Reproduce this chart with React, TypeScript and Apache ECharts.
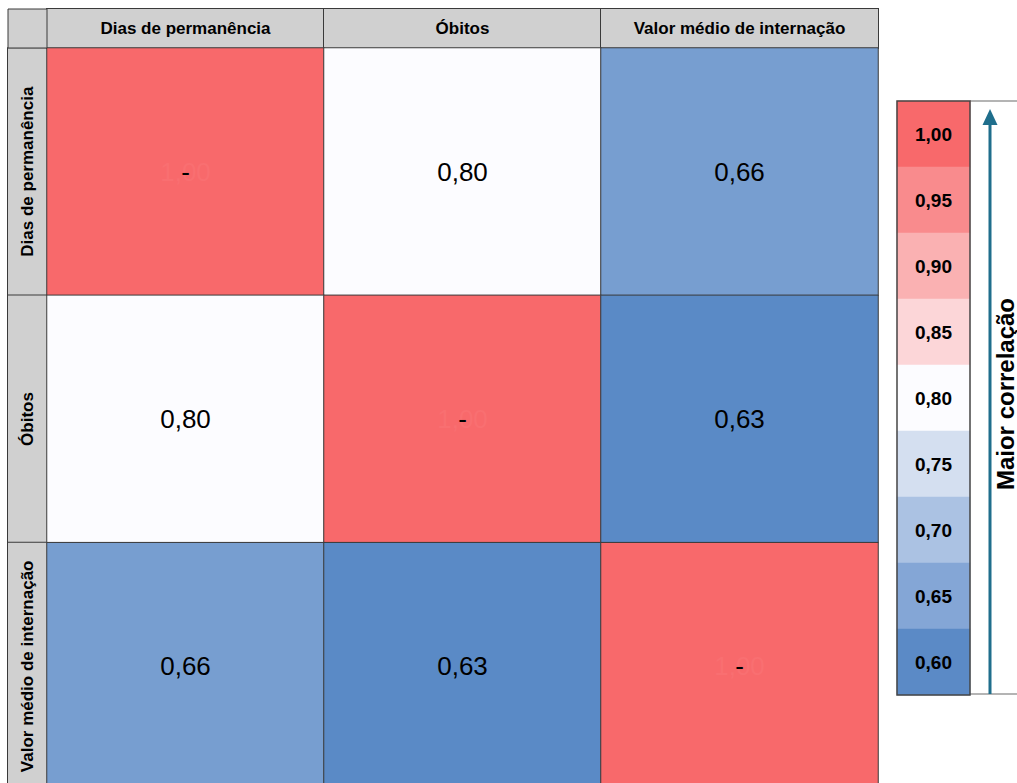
import React, { useEffect, useRef } from "react";
import * as echarts from "echarts";

const categories = ["Dias de permanência", "Óbitos", "Valor médio de internação"];
const rowDias = [1.0, 0.8, 0.66];
const rowObitos = [0.8, 1.0, 0.63];
const rowValor = [0.66, 0.63, 1.0];
const matrixRows = [rowDias, rowObitos, rowValor];

const legendTicks = [1.0, 0.95, 0.9, 0.85, 0.8, 0.75, 0.7, 0.65, 0.6];
const legendColors = ["#f8696b", "#f98b8d", "#fab1b2", "#fcd6d8", "#fcfcff", "#d4dff0", "#abc2e3", "#84a6d6", "#5b8ac6"];
const scaleColors = ["#5a8ac6", "#fcfcff", "#f8696b"];
const arrowLabel = "Maior correlação";

const fmt = (v: number) => v.toFixed(2).replace(".", ",");

const SANS = "'Liberation Sans', Arial, sans-serif";

export default function App() {
  const ref = useRef<HTMLDivElement>(null);
  useEffect(() => {
    document.body.style.margin = "0";
    document.body.style.overflow = "hidden";
    const chart = echarts.init(ref.current!, null, { renderer: "svg" });

    const cellData: any[] = [];
    const dashData: any[] = [];
    matrixRows.forEach((row, r) => {
      row.forEach((v, c) => {
        cellData.push([c, r, v]);
        if (r === c) dashData.push([c, r, v]);
      });
    });

    const legendData = legendTicks.map((v, i) => [0, i, v]);

    const headerLabel = {
      interval: 0, margin: 0, height: 39, lineHeight: 39,
      backgroundColor: "#d0d0d0", borderColor: "#3a3a3a", borderWidth: 1,
      align: "center", fontSize: 17, fontWeight: "bold", fontFamily: SANS, color: "#000",
    };

    const option: any = {
      animation: false,
      grid: [
        { left: 47, top: 48, width: 831, height: 742, containLabel: false, outerBoundsMode: "none" },
        {
          left: 897, top: 101, width: 73, height: 594, show: true, z: 10, outerBoundsMode: "none",
          borderColor: "#454545", borderWidth: 1.5, backgroundColor: "transparent",
        },
      ],
      xAxis: [
        {
          type: "category", gridIndex: 0, data: categories, position: "top",
          axisLine: { show: false }, axisTick: { show: false }, splitLine: { show: false },
          axisLabel: { ...headerLabel, width: 277 },
        },
        { type: "category", gridIndex: 1, data: ["escala"], show: false },
      ],
      yAxis: [
        {
          type: "category", gridIndex: 0, data: categories, inverse: true,
          axisLine: { show: false }, axisTick: { show: false }, splitLine: { show: false },
          axisLabel: { ...headerLabel, rotate: 90, width: 247 },
        },
        { type: "category", gridIndex: 1, data: legendTicks.map(fmt), inverse: true, show: false },
      ],
      visualMap: [
        {
          show: false, type: "continuous", seriesIndex: 0, dimension: 2,
          min: 0.63, max: 0.97, inRange: { color: scaleColors },
        },
        {
          show: false, type: "continuous", seriesIndex: 1, dimension: 2,
          min: 0, max: 1, inRange: { color: ["rgba(0,0,0,0)", "rgba(0,0,0,0)"] },
        },
        {
          show: false, type: "continuous", seriesIndex: 2, dimension: 2,
          min: 0.6, max: 1.0, inRange: { color: legendColors.slice().reverse() },
        },
      ],
      series: [
        {
          type: "heatmap", xAxisIndex: 0, yAxisIndex: 0, data: cellData,
          itemStyle: { borderColor: "#3a3a3a", borderWidth: 1 },
          label: {
            show: true, fontSize: 26, fontFamily: SANS, color: "#000",
            formatter: (p: any) => (p.value[0] === p.value[1] ? "{f|" + fmt(p.value[2]) + "}" : fmt(p.value[2])),
            rich: { f: { fontSize: 26, fontFamily: SANS, color: "#f96f71" } },
          },
          emphasis: { disabled: true },
        },
        {
          type: "heatmap", xAxisIndex: 0, yAxisIndex: 0, data: dashData,
          itemStyle: { borderWidth: 0 },
          label: { show: true, fontSize: 26, fontFamily: SANS, color: "#000", formatter: () => "-" },
          emphasis: { disabled: true },
        },
        {
          type: "heatmap", xAxisIndex: 1, yAxisIndex: 1, data: legendData,
          itemStyle: { borderWidth: 0 },
          label: {
            show: true, fontSize: 19, fontWeight: "bold", fontFamily: SANS, color: "#000",
            formatter: (p: any) => fmt(p.value[2]),
          },
          emphasis: { disabled: true },
        },
      ],
      graphic: [
        {
          type: "rect", shape: { x: 8, y: 9, width: 39, height: 39 },
          style: { fill: "#d0d0d0", stroke: "#3a3a3a", lineWidth: 1 }, z: 5,
        },
        { type: "line", shape: { x1: 970, y1: 101, x2: 1017, y2: 101 }, style: { stroke: "#b4b4b4", lineWidth: 2 } },
        { type: "line", shape: { x1: 970, y1: 694, x2: 1017, y2: 694 }, style: { stroke: "#b4b4b4", lineWidth: 2 } },
        { type: "line", shape: { x1: 990, y1: 694, x2: 990, y2: 120 }, style: { stroke: "#1f6e8c", lineWidth: 3 } },
        {
          type: "polygon", shape: { points: [[982.5, 125], [997.5, 125], [990, 109]] },
          style: { fill: "#1f6e8c" },
        },
        {
          type: "text", x: 1005, y: 394, rotation: Math.PI / 2,
          style: {
            text: arrowLabel, fontSize: 24, fontWeight: "bold", fontFamily: SANS, fill: "#000",
            align: "center", verticalAlign: "middle",
          },
        },
      ],
    };
    chart.setOption(option);
    return () => chart.dispose();
  }, []);
  return <div ref={ref} style={{ width: 1017, height: 783 }} />;
}
